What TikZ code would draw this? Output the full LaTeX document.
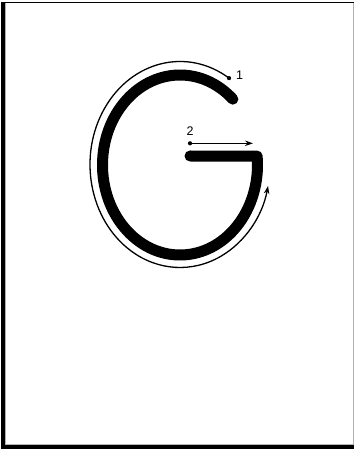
\documentclass[tikz,border=0pt]{standalone}
\usepackage{fontspec}
\setmainfont{Liberation Sans}
\usetikzlibrary{arrows.meta,calc}
\tikzset{
  gstroke/.style={line width=11pt, line cap=round, line join=round},
  guide/.style={line width=1.3pt, -{Stealth[length=8pt,width=5.5pt]}},
  startdot/.style={circle, fill=black, inner sep=0pt, minimum size=4.2pt},
  numlabel/.style={font=\fontsize{12.5}{13}\selectfont, inner sep=0pt},
}
\begin{document}
\begin{tikzpicture}[x=1pt,y=-1pt]
\useasboundingbox (0,0) rectangle (355,454);
% frame
\draw[gray!60, line width=1.2pt] (5.3,3) -- (5.3,444.7) -- (353.5,444.7) -- (353.5,2.5);
\draw[black, line width=1.5pt] (1,2.5) -- (354.3,2.5);
\draw[black, line width=3.7pt] (2.9,1.8) -- (2.9,449);
\draw[black, line width=4pt] (1,447) -- (353.5,447);
% letter G
\draw[gstroke] (180,165) ++(-47:77.5 and 90) arc[start angle=-47, end angle=-365.7, x radius=77.5, y radius=90] -- (190,156);
% stroke 1 guide
\coordinate (c1) at ($(180,164.5)+(-57:90 and 103)$);
\node[startdot] (d1) at (c1) {};
\draw[guide] (d1.center) arc[start angle=-57, end angle=-348, x radius=90, y radius=103];
\node[numlabel] (n1) at (239.5,75.5) {1};
% stroke 2 guide
\node[startdot] (d2) at (190,143.3) {};
\coordinate (e2) at (253,143.3);
\draw[guide] (d2.center) -- (e2);
\node[numlabel] (n2) at (190,131) {2};
\end{tikzpicture}
\end{document}
